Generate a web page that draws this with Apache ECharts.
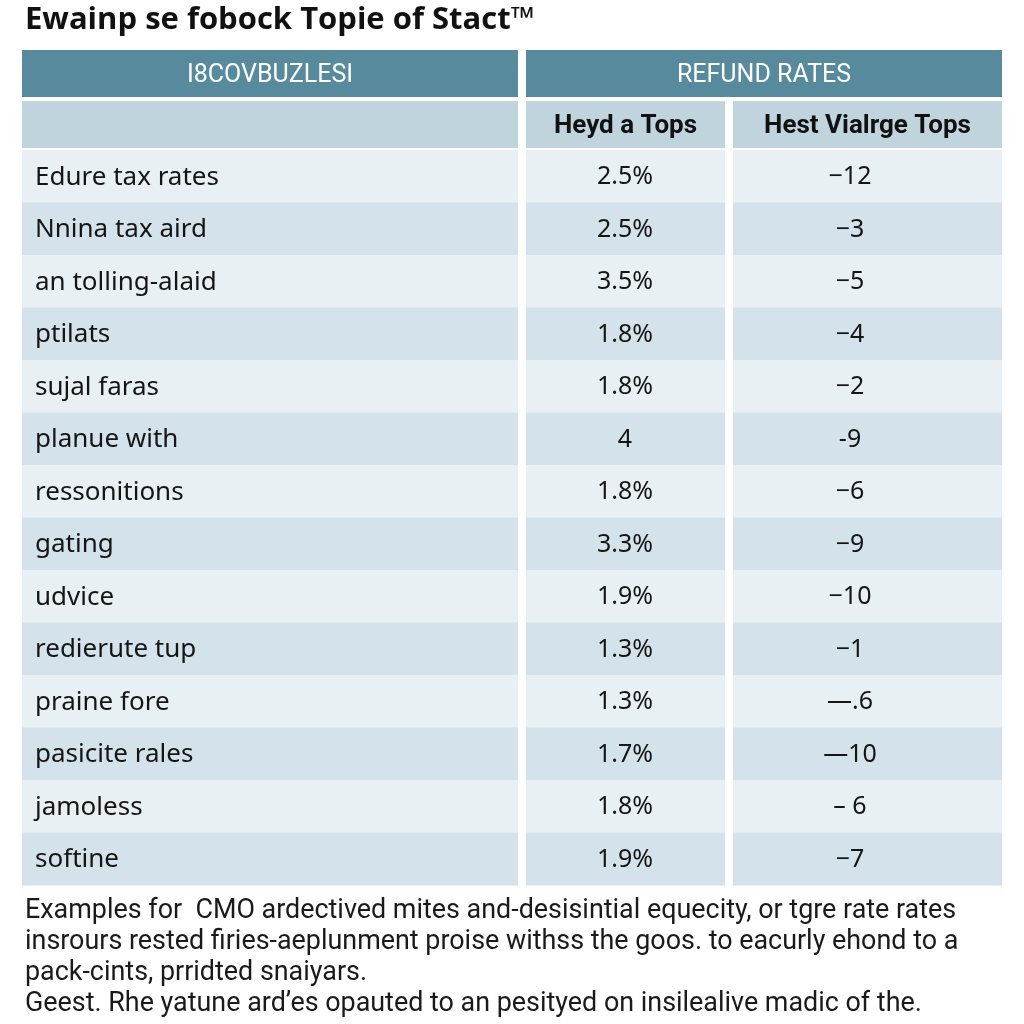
<!DOCTYPE html>
<html>
<head>
<meta charset="utf-8">
<script src="https://cdn.jsdelivr.net/npm/echarts@6/dist/echarts.min.js"></script>
<style>html,body{margin:0;padding:0;background:#fff}#c{width:1024px;height:1024px}</style>
</head>
<body>
<div id="c"></div>
<script>
// ---- data ----
const titleText = 'Ewainp se fobock Topie of Stact\u2122';
const groupHeaders = ['I8COVBUZLESI', 'REFUND RATES'];
const columnHeaders = ['', 'Heyd a Tops', 'Hest Vialrge Tops'];
const rowLabels = ['Edure tax rates', 'Nnina tax aird', 'an tolling-alaid', 'ptilats', 'sujal faras',
  'planue with', 'ressonitions', 'gating', 'udvice', 'redierute tup', 'praine fore',
  'pasicite rales', 'jamoless', 'softine'];
const heydTops = ['2.5%', '2.5%', '3.5%', '1.8%', '1.8%', '4', '1.8%', '3.3%', '1.9%', '1.3%', '1.3%', '1.7%', '1.8%', '1.9%'];
const hestTops = ['\u221212', '\u22123', '\u22125', '\u22124', '\u22122', '-9', '\u22126', '\u22129', '\u221210', '\u22121', '\u2014.6', '\u201410', '\u2013 6', '\u22127'];
const footerLines = [
  'Examples for  CMO ardectived mites and-desisintial equecity, or tgre rate rates',
  'insrours rested firies-aeplunment proise withss the goos. to eacurly ehond to a',
  'pack-cints, prridted snaiyars.',
  'Geest. Rhe yatune ard\u2019es opauted to an pesityed on insilealive madic of the.'
];

// ---- layout (x units on a 0..980 value axis) ----
const COL_EDGES = [[0, 496], [504, 703], [711, 980]];
const GROUP_EDGES = [[0, 496], [504, 980]];
const COL_TEXT_X = [13, 603, 828];
const BODY_FONT = '"Noto Sans", "Open Sans", sans-serif';
const NARROW_FONT = '"Liberation Sans Narrow", Roboto, sans-serif';

const cols = [rowLabels, heydTops, hestTops];
const bodyData = [];
for (let r = 0; r < rowLabels.length; r++) {
  for (let c = 0; c < 3; c++) bodyData.push({ value: [c, r], text: cols[c][r] });
}
const headerData = [];
groupHeaders.forEach((t, i) => headerData.push({ value: [i, 0], text: t, span: GROUP_EDGES[i] }));
columnHeaders.forEach((t, i) => headerData.push({ value: [i, 1], text: t, span: COL_EDGES[i] }));

const chart = echarts.init(document.getElementById('c'), null, { renderer: 'canvas' });

function bodyItem(params, api) {
  const d = bodyData[params.dataIndex];
  const c = d.value[0], r = api.value(1);
  const p0 = api.coord([COL_EDGES[c][0], r]);
  const p1 = api.coord([COL_EDGES[c][1], r]);
  const h = api.size([0, 1])[1];
  const fill = r % 2 === 0 ? '#e8f0f4' : '#d4e2eb';
  const tx = api.coord([COL_TEXT_X[c], r])[0];
  return {
    type: 'group',
    children: [
      { type: 'rect', shape: { x: p0[0], y: p0[1] - h / 2, width: p1[0] - p0[0], height: h + 0.5 }, style: { fill } },
      { type: 'text', style: { text: d.text, x: tx, y: p0[1] + 1, align: c === 0 ? 'left' : 'center', verticalAlign: 'middle',
        font: (c === 0 ? '26px ' : '25px ') + BODY_FONT, fill: '#151515' } }
    ]
  };
}

function headerItem(params, api) {
  const d = headerData[params.dataIndex];
  const r = api.value(1);
  const p0 = api.coord([d.span[0], r]);
  const p1 = api.coord([d.span[1], r]);
  const h = api.size([0, 1])[1];
  const top = r === 0;
  return {
    type: 'group',
    children: [
      { type: 'rect', shape: { x: p0[0], y: p0[1] - h / 2 + 2, width: p1[0] - p0[0], height: h - 4 }, style: { fill: top ? '#588a9e' : '#c0d4de' } },
      { type: 'text', style: { text: d.text, x: (p0[0] + p1[0]) / 2, y: p0[1] + 2, align: 'center', verticalAlign: 'middle',
        font: (top ? 'normal 25px ' : 'bold 26px ') + NARROW_FONT, fill: top ? '#ffffff' : '#111111' } }
    ]
  };
}

chart.setOption({
  backgroundColor: '#ffffff',
  animation: false,
  title: {
    text: titleText, left: 20, top: 0,
    textStyle: { fontFamily: '"Open Sans", sans-serif', fontWeight: 'bold', fontSize: 31, color: '#111' }
  },
  grid: [
    { left: 22, right: 22, top: 48, height: 102 },
    { left: 22, right: 22, top: 150, height: 735 }
  ],
  xAxis: [
    { type: 'value', gridIndex: 0, min: 0, max: 980, show: false },
    { type: 'value', gridIndex: 1, min: 0, max: 980, show: false }
  ],
  yAxis: [
    { type: 'category', gridIndex: 0, data: ['group', 'column'], inverse: true, show: false },
    { type: 'category', gridIndex: 1, data: rowLabels, inverse: true, show: false }
  ],
  series: [
    { type: 'custom', xAxisIndex: 0, yAxisIndex: 0, renderItem: headerItem, data: headerData.map(d => d.value), silent: true },
    { type: 'custom', xAxisIndex: 1, yAxisIndex: 1, renderItem: bodyItem, data: bodyData.map(d => d.value), silent: true }
  ],
  graphic: footerLines.map((t, i) => ({
    type: 'text', left: 25, top: 898 + i * 31,
    style: { text: t, font: '26.9px ' + NARROW_FONT, fill: '#1a1a1a' }
  }))
});
</script>
</body>
</html>
